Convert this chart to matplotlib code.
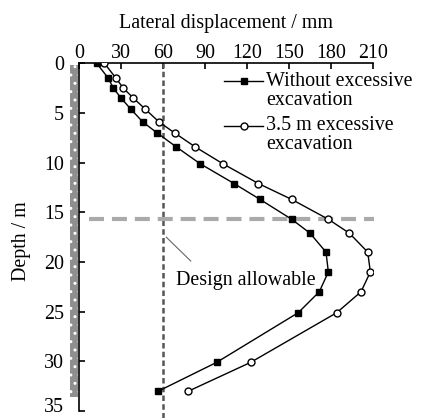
import matplotlib
matplotlib.use("Agg")
import matplotlib.pyplot as plt
import matplotlib.transforms as mtransforms
from matplotlib.patches import Rectangle
from matplotlib.lines import Line2D

# Monitoring depths (m) and lateral wall displacement (mm)
depth = [0, 1.5, 2.5, 3.5, 4.6, 5.9, 7.0, 8.4, 10.1, 12.1, 13.7, 15.7,
         17.1, 19.0, 21.0, 23.0, 25.1, 30.1, 33.0]
disp_normal = [12.4, 20.7, 24.3, 29.8, 36.7, 45.3, 55.5, 69.1, 86.2, 110.5,
               129.1, 151.7, 164.8, 176.2, 177.9, 171.4, 156.4, 98.1, 56.4]
disp_over = [17.9, 26.2, 31.4, 38.6, 47.0, 56.9, 68.0, 82.6, 102.4, 127.9,
             151.7, 177.9, 192.9, 206.0, 207.9, 201.2, 183.9, 122.4, 77.9]

label_normal = "Without excessive\nexcavation"
label_over = "3.5 m excessive\nexcavation"

design_allowable = 60      # mm
excavation_depth = 15.7    # m
wall_length = 33.6         # m

x_ticks = [0, 30, 60, 90, 120, 150, 180, 210]
y_ticks = [0, 5, 10, 15, 20, 25, 30, 35]

plt.rcParams['font.family'] = ['Liberation Serif', 'DejaVu Serif']
FS = 14.4

fig = plt.figure(figsize=(4.21, 4.18), dpi=100)
ax = fig.add_axes([0.1884, 0.0, 0.6983, 0.8486])
ax.set_xlim(0, 210)
ax.set_ylim(35.7, 0)

# Axes styling: top and left only, inward ticks
for s in ['right', 'bottom']:
    ax.spines[s].set_visible(False)
ax.spines['left'].set_bounds(0, 35)
ax.spines['top'].set_linewidth(1.2)
ax.spines['left'].set_linewidth(1.2)
ax.xaxis.tick_top()
ax.xaxis.set_label_position('top')
ax.set_xticks(x_ticks)
ax.set_yticks(y_ticks)
ax.tick_params(axis='both', direction='in', length=4.5, width=1.2,
               labelsize=FS)
ax.tick_params(axis='x', pad=0.5)
ax.tick_params(axis='y', pad=11)
ax.set_xlabel("Lateral displacement / mm", fontsize=FS, labelpad=11)
ax.set_ylabel("Depth / m", fontsize=FS)
ax.yaxis.set_label_coords(-0.165, 0.5)

# keep the deepest tick label inside the canvas
fig.canvas.draw()
last = ax.get_yticklabels()[-1]
last.set_transform(last.get_transform() +
                   mtransforms.ScaledTranslation(0, 4.5 / 72, fig.dpi_scale_trans))

# Retaining wall
wall = Rectangle((-6.6, 0.2), 6.0, wall_length - 0.2, facecolor='#8f8f8f',
                 edgecolor='white', hatch='..', linewidth=0, clip_on=False,
                 zorder=1)
ax.add_patch(wall)

# Reference lines
ax.axvline(design_allowable, color='#555555', lw=1.8, dashes=(2.2, 1.3),
           zorder=2, clip_on=False)
ax.plot([6.9, 210.2], [excavation_depth, excavation_depth], color='#aaaaaa',
        lw=3.0, dashes=(3.6, 1.9), zorder=2, clip_on=False)

# Displacement profiles
ax.plot(disp_normal, depth, color='black', lw=1.0, marker='s', ms=5,
        mfc='black', mec='black', zorder=4)
ax.plot(disp_over, depth, color='black', lw=1.0, marker='o', ms=5,
        mfc='white', mec='black', mew=1.0, zorder=4)

# Annotation for the design limit
ax.plot([62.1, 79.6], [17.5, 19.9], color='#666666', lw=0.8, zorder=3)
ax.text(69.0, 22.3, "Design allowable", fontsize=FS, va='baseline',
        ha='left', zorder=5)

# Legend
leg_x0, leg_x1, leg_tx = 103.4, 131.2, 133.3
for yy, mk, fc, lab in [(1.8, 's', 'black', label_normal),
                        (6.3, 'o', 'white', label_over)]:
    ax.add_line(Line2D([leg_x0, leg_x1], [yy, yy], color='black', lw=1.0,
                       zorder=5))
    ax.plot([(leg_x0 + leg_x1) / 2], [yy], marker=mk, ms=5, mfc=fc,
            mec='black', zorder=6)
    first, second = lab.split("\n")
    ax.text(leg_tx, yy, first, fontsize=FS, va='center', ha='left')
    ax.text(leg_tx, yy + 1.9, second, fontsize=FS, va='center', ha='left')

fig.savefig("out.png", dpi=100)
